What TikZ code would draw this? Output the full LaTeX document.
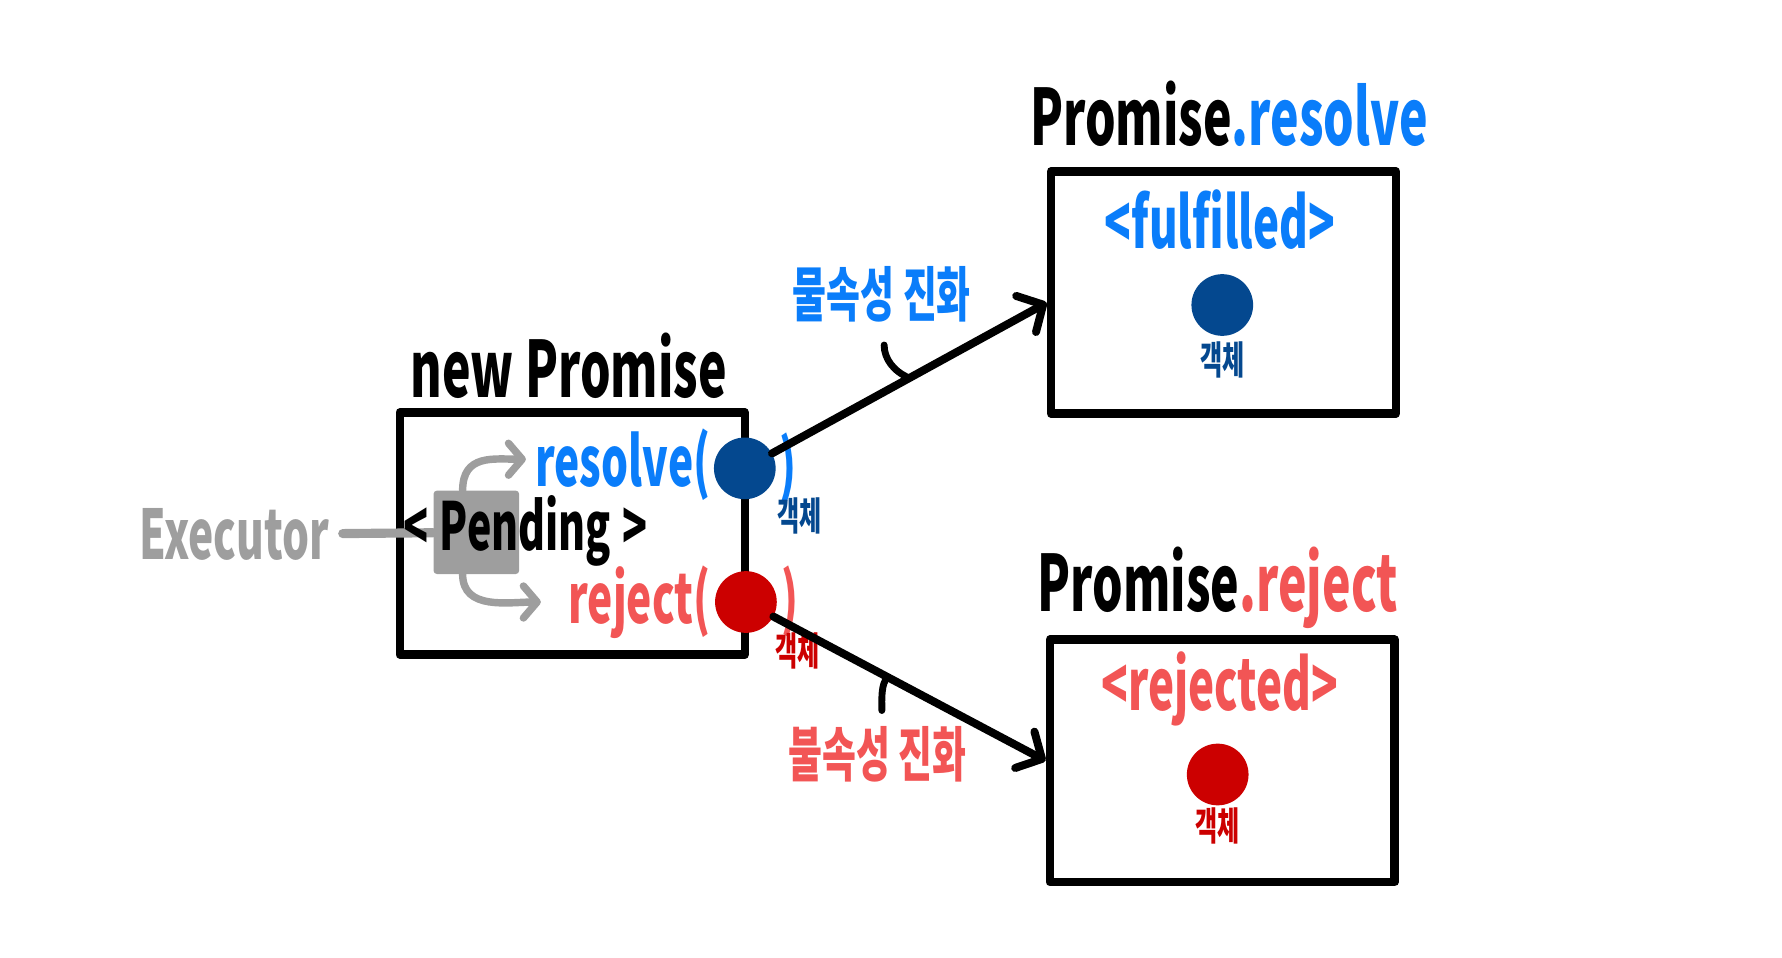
\documentclass[tikz,border=0pt]{standalone}
\usepackage{fontspec}
\newfontfamily\hand[FakeStretch=0.62]{Noto Sans CJK KR}
\usetikzlibrary{arrows.meta,calc}
\definecolor{resblue}{RGB}{10,125,250}
\definecolor{objblue}{RGB}{4,72,143}
\definecolor{rejred}{RGB}{242,85,85}
\definecolor{objred}{RGB}{204,0,0}
\definecolor{execgray}{RGB}{158,158,158}
\tikzset{>={Straight Barb[length=17pt,width=36pt,round]}}
\tikzstyle{stbox}=[rectangle,draw=black,line width=7.5pt,line join=round,minimum width=302pt,minimum height=212pt,inner sep=0pt]
\tikzstyle{objdot}=[circle,inner sep=0pt,minimum size=54pt]
\tikzstyle{ptitle}=[font=\hand\bfseries\fontsize{68}{70}\selectfont,inner sep=0pt,anchor=base]
\tikzstyle{stname}=[font=\hand\bfseries\fontsize{62}{64}\selectfont,inner sep=0pt]
\tikzstyle{callname}=[font=\hand\bfseries\fontsize{60}{62}\selectfont,inner sep=0pt]
\tikzstyle{objtag}=[font=\hand\bfseries\fontsize{34}{36}\selectfont,inner sep=0pt]
\tikzstyle{evol}=[font=\hand\bfseries\fontsize{52}{54}\selectfont,inner sep=0pt]
\tikzstyle{flow}=[->,line width=7pt,line cap=round]
\tikzstyle{gflow}=[-{Straight Barb[length=12pt,width=28pt,round]},draw=execgray,line width=6.5pt,line cap=round]
\tikzstyle{tick}=[line width=6pt,line cap=round]

\begin{document}
\begin{tikzpicture}[x=1pt,y=-1pt]
	\useasboundingbox (0,0) rectangle (1560,838);

	\node[stbox] (newbox) at (501,467) {};
	\node[stbox] (fulbox) at (1071,256) {};
	\node[stbox] (rejbox) at (1070,666) {};

	\node[ptitle] (newt) at (498,348) {new Promise};
	\node[ptitle] (fult) at (1076,127) {Promise\textcolor{resblue}{.resolve}};
	\node[ptitle] (rejt) at (1066,535) {Promise\textcolor{rejred}{.reject}};

	% pending state
	\node[callname,text=execgray] (exec) at (205,468) {Executor};
	\node[fill=execgray,minimum width=75pt,minimum height=73pt,inner sep=0pt,rounded corners=3pt] (pendbg) at (417,466) {};
	\draw[draw=execgray,line width=8pt,line cap=round,shorten <=12pt] (exec) -- (pendbg);
	\node[stname,font=\hand\bfseries\fontsize{58}{60}\selectfont] (pend) at (460,465) {<\,Pending\,>};

	\node[callname,text=resblue,anchor=east] (res) at (622,407) {resolve(};
	\node[callname,text=rejred,anchor=east] (rej) at (622,527) {reject(};
	\node[callname,text=resblue] (bclose) at (690,410) {)};
	\node[callname,text=rejred] (rclose) at (692,527) {)};
	\node[objdot,fill=objblue] (bdot) at (652,410) {};
	\node[objdot,fill=objred] (rdot) at (653,527) {};
	\node[objtag,text=objblue] (btag) at (700,452) {객체};
	\node[objtag,text=objred] (rtag) at (698,570) {객체};

	\draw[gflow] ([xshift=-12pt]pendbg.north) .. controls +(0,-32) and +(-28,0) .. ([xshift=-8pt,yshift=5pt]res.west);
	\draw[gflow] ([xshift=-12pt]pendbg.south) .. controls +(0,32) and +(-28,0) .. ([xshift=-24pt]rej.west);

	% settled states
	\node[stname,text=resblue] (ful) at (1068,192) {<fulfilled>};
	\node[objdot,fill=objblue] (fuldot) at (1070,267) {};
	\node[objtag,text=objblue] (fultag) at (1070,315) {객체};
	\node[stname,text=rejred] (rejs) at (1068,603) {<rejected>};
	\node[objdot,fill=objred] (rejdot) at (1066,678) {};
	\node[objtag,text=objred] (rejtag) at (1066,723) {객체};

	\draw[flow] (bdot) -- coordinate[pos=0.5] (bmid) ([yshift=-9pt]fulbox.west);
	\draw[flow] (rdot) -- coordinate[pos=0.42] (rmid) (rejbox.west);

	\node[evol,text=resblue] (bevol) at (772,258) {물속성 진화};
	\node[evol,text=rejred] (revol) at (768,660) {불속성 진화};
	\coordinate (btick) at (774,302);
	\coordinate (rtick) at (772,622);
	\draw[tick] (bmid) .. controls +(-14,-6) and +(0,12) .. (btick);
	\draw[tick] (rmid) .. controls +(-6,6) and +(0,-10) .. (rtick);
\end{tikzpicture}
\end{document}
